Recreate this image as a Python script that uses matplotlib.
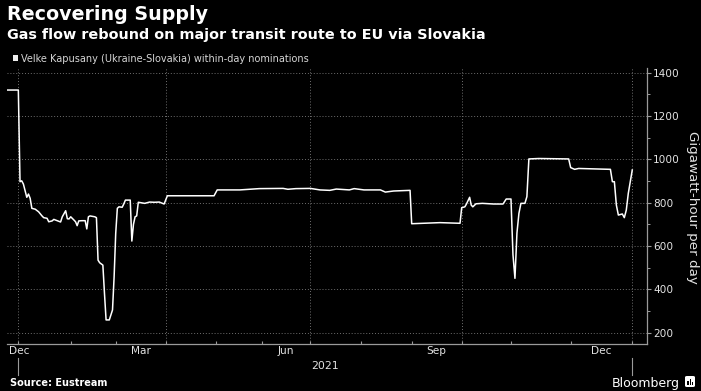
import numpy as np
import pandas as pd
import matplotlib
matplotlib.use("Agg")
import matplotlib.pyplot as plt
import matplotlib.dates as mdates
from matplotlib.patches import Rectangle, FancyBboxPatch
from matplotlib.ticker import FixedLocator, NullFormatter
from matplotlib.transforms import blended_transform_factory

# ---------------- data ----------------
dates = [
    "2020-12-25", "2020-12-28", "2021-01-01", "2021-01-02", "2021-01-03", "2021-01-04",
    "2021-01-06", "2021-01-07", "2021-01-08", "2021-01-09", "2021-01-11", "2021-01-13",
    "2021-01-15", "2021-01-16", "2021-01-18", "2021-01-19", "2021-01-21", "2021-01-22",
    "2021-01-24", "2021-01-26", "2021-01-27", "2021-01-29", "2021-01-30", "2021-01-31",
    "2021-02-01", "2021-02-03", "2021-02-04", "2021-02-05", "2021-02-06", "2021-02-08",
    "2021-02-10", "2021-02-11", "2021-02-12", "2021-02-13", "2021-02-16", "2021-02-17",
    "2021-02-18", "2021-02-19", "2021-02-21", "2021-02-22", "2021-02-23", "2021-02-25",
    "2021-02-27", "2021-02-28", "2021-03-01", "2021-03-02", "2021-03-03", "2021-03-05",
    "2021-03-06", "2021-03-07", "2021-03-10", "2021-03-11", "2021-03-12", "2021-03-13",
    "2021-03-14", "2021-03-15", "2021-03-19", "2021-03-22", "2021-03-25", "2021-03-28",
    "2021-03-31", "2021-04-02", "2021-04-30", "2021-05-02", "2021-05-17", "2021-05-30",
    "2021-06-14", "2021-06-17", "2021-06-22", "2021-07-01", "2021-07-07", "2021-07-13",
    "2021-07-17", "2021-07-25", "2021-07-28", "2021-08-03", "2021-08-13", "2021-08-16",
    "2021-08-21", "2021-08-31", "2021-09-01", "2021-09-18", "2021-09-30", "2021-10-01",
    "2021-10-03", "2021-10-04", "2021-10-06", "2021-10-07", "2021-10-08", "2021-10-10",
    "2021-10-14", "2021-10-21", "2021-10-27", "2021-10-29", "2021-11-01", "2021-11-02",
    "2021-11-03", "2021-11-04", "2021-11-05", "2021-11-06", "2021-11-08", "2021-11-09",
    "2021-11-10", "2021-11-15", "2021-11-30", "2021-12-01", "2021-12-03", "2021-12-05",
    "2021-12-21", "2021-12-22", "2021-12-23", "2021-12-24", "2021-12-25", "2021-12-27",
    "2021-12-28", "2021-12-29", "2021-12-30", "2022-01-01",
]
nominations = [
    1320, 1320, 1320, 897, 901, 886,
    825, 840, 820, 774, 770, 758,
    739, 731, 728, 712, 716, 723,
    717, 711, 735, 763, 726, 725,
    735, 720, 712, 694, 716, 717,
    717, 679, 735, 739, 735, 731,
    535, 523, 512, 382, 259, 259,
    305, 458, 659, 774, 781, 779,
    794, 812, 812, 623, 700, 735,
    739, 802, 797, 803, 802, 803,
    794, 832, 832, 859, 859, 865,
    866, 862, 865, 866, 859, 857,
    863, 859, 865, 859, 859, 849,
    854, 857, 703, 708, 705, 777,
    781, 794, 825, 789, 781, 795,
    797, 794, 794, 817, 817, 560,
    451, 660, 751, 797, 797, 828,
    1002, 1004, 1002, 962, 954, 958,
    954, 897, 897, 789, 743, 748,
    731, 766, 843, 951,
]

y_ticks = [200, 400, 600, 800, 1000, 1200, 1400]
y_minor = [300, 500, 700, 900, 1100, 1300]
month_labels = ["Dec", "Mar", "Jun", "Sep", "Dec"]
month_label_dates = ["2021-01-01T06:00", "2021-03-16T12:00", "2021-06-16T00:00",
                     "2021-09-16T00:00", "2021-12-16T12:00"]
year_label = "2021"
series_label = "Velke Kapusany (Ukraine-Slovakia) within-day nominations"

# Bloomberg's time axis is not uniform: month starts anchored to axis positions
axis_anchor_dates = ["2020-12-01", "2021-01-01", "2021-02-01", "2021-03-01", "2021-04-01",
                     "2021-05-01", "2021-06-01", "2021-07-01", "2021-08-01", "2021-09-01",
                     "2021-10-01", "2021-11-01", "2021-12-01", "2022-01-01", "2022-02-01"]
axis_anchor_pos = [-34.1, 18.3, 70.7, 115.7, 165.7, 215.7, 262.3, 310.3, 360.7, 411.7,
                   461.7, 511.0, 570.7, 632.3, 693.9]

# ---------------- scale ----------------
anum = mdates.date2num(pd.to_datetime(axis_anchor_dates))
apos = np.array(axis_anchor_pos, float)
s_lo = (apos[1] - apos[0]) / (anum[1] - anum[0])
s_hi = (apos[-1] - apos[-2]) / (anum[-1] - anum[-2])


def fwd(x):
    x = np.asarray(x, float)
    y = np.interp(x, anum, apos)
    y = np.where(x < anum[0], apos[0] + (x - anum[0]) * s_lo, y)
    y = np.where(x > anum[-1], apos[-1] + (x - anum[-1]) * s_hi, y)
    return y


def inv(p):
    p = np.asarray(p, float)
    x = np.interp(p, apos, anum)
    x = np.where(p < apos[0], anum[0] + (p - apos[0]) / s_lo, x)
    x = np.where(p > apos[-1], anum[-1] + (p - apos[-1]) / s_hi, x)
    return x


# ---------------- figure ----------------
W, H = 701, 391
plt.rcParams["font.family"] = ["DejaVu Sans"]
fig = plt.figure(figsize=(W / 100, H / 100), dpi=100, facecolor="black")

ax_l, ax_r, ax_t, ax_b = 6.5, 646.5, 68.0, 344.3
ax = fig.add_axes([ax_l / W, 1 - ax_b / H, (ax_r - ax_l) / W, (ax_b - ax_t) / H])
ax.set_facecolor("black")
ax.set_xscale("function", functions=(fwd, inv))

xd = mdates.date2num(pd.to_datetime(dates))
ax.plot(xd, nominations, color="white", lw=1.1, solid_joinstyle="round", zorder=3)

x0 = mdates.date2num(pd.Timestamp("2020-12-25"))
x1 = mdates.date2num(pd.Timestamp("2022-01-08 04:00"))
ax.set_xlim(x0, x1)
ax.set_ylim(146.5, 1421.7)

grid_col = "#6e6e6e"
axis_col = "#9a9a9a"
txt_col = "#e2e2e2"

for v in y_ticks:
    ax.axhline(v, color=grid_col, lw=0.7, ls=(0, (1, 2)), zorder=1)
for d in ["2021-01-01", "2021-04-01", "2021-07-01", "2021-10-01", "2022-01-01"]:
    ax.axvline(mdates.date2num(pd.Timestamp(d)), color=grid_col, lw=0.7, ls=(0, (1, 2)), zorder=1)

for s in ["top", "left"]:
    ax.spines[s].set_visible(False)
ax.spines["bottom"].set_color(axis_col)
ax.spines["right"].set_color(axis_col)
ax.spines["bottom"].set_linewidth(0.9)
ax.spines["right"].set_linewidth(0.9)

ax.yaxis.tick_right()
ax.set_yticks(y_ticks)
ax.set_yticks(y_minor, minor=True)
ax.tick_params(axis="y", which="major", direction="out", length=3, width=0.8, color=axis_col,
               labelcolor=txt_col, labelsize=7.6, pad=1.8)
ax.tick_params(axis="y", which="minor", direction="out", length=2, width=0.7, color=axis_col)

ax.xaxis.remove_overlapping_locs = False
month_starts = mdates.date2num(pd.date_range("2021-01-01", "2022-01-01", freq="MS"))
ax.xaxis.set_major_locator(FixedLocator(month_starts))
ax.xaxis.set_major_formatter(NullFormatter())
ax.xaxis.set_minor_locator(FixedLocator(mdates.date2num(pd.to_datetime(month_label_dates))))
ax.set_xticklabels(month_labels, minor=True)
ax.tick_params(axis="x", which="major", direction="in", length=2, width=0.8, color=axis_col)
ax.tick_params(axis="x", which="minor", length=0, labelcolor=txt_col, labelsize=7.6, pad=1.0)

tr = blended_transform_factory(ax.transData, ax.transAxes)
ya = mdates.date2num(pd.Timestamp("2021-01-01"))
yb = mdates.date2num(pd.Timestamp("2022-01-01"))
ymid = float(inv((fwd(ya) + fwd(yb)) / 2))
ax_h = ax_b - ax_t
ax.text(ymid, -(366.0 - ax_b) / ax_h, year_label, transform=tr, ha="center", va="center",
        color=txt_col, fontsize=7.8)
for xx in (ya, yb):
    ax.plot([xx, xx], [-(358 - ax_b) / ax_h, -(375 - ax_b) / ax_h], transform=tr,
            color=axis_col, lw=0.8, clip_on=False)

fig.text(692 / W, 1 - 207 / H, "Gigawatt-hour per day", rotation=270, ha="center", va="center",
         color=txt_col, fontsize=9.7)

fig.text(7 / W, 1 - 19.5 / H, "Recovering Supply", color="white", fontsize=13.7,
         fontweight="bold", va="baseline", ha="left")
fig.text(7 / W, 1 - 38.5 / H, "Gas flow rebound on major transit route to EU via Slovakia",
         color="white", fontsize=10.4, fontweight="bold", va="baseline", ha="left")

fig.patches.append(Rectangle((13 / W, 1 - 61 / H), 5 / W, 6 / H, transform=fig.transFigure,
                             facecolor="#eeeeee", edgecolor="none"))
fig.text(21 / W, 1 - 61.5 / H, series_label, color="#d6d6d6", fontsize=7, va="baseline", ha="left")

fig.text(10 / W, 1 - 386.5 / H, "Source: Eustream", color="white", fontsize=7,
         fontweight="bold", va="baseline", ha="left")
fig.text(680 / W, 1 - 386.5 / H, "Bloomberg", color="white", fontsize=9, va="baseline", ha="right")
fig.patches.append(FancyBboxPatch((685 / W, 1 - 387 / H), 10 / W, 11 / H,
                                  boxstyle="round,pad=0,rounding_size=0.003",
                                  transform=fig.transFigure, facecolor="white", edgecolor="none"))
for bx, bh in [(687.2, 4), (689.6, 6), (692.0, 3)]:
    fig.patches.append(Rectangle((bx / W, 1 - 384.5 / H), 1.4 / W, bh / H, transform=fig.transFigure,
                                 facecolor="black", edgecolor="none"))

fig.savefig("out.png", dpi=100, facecolor="black")
